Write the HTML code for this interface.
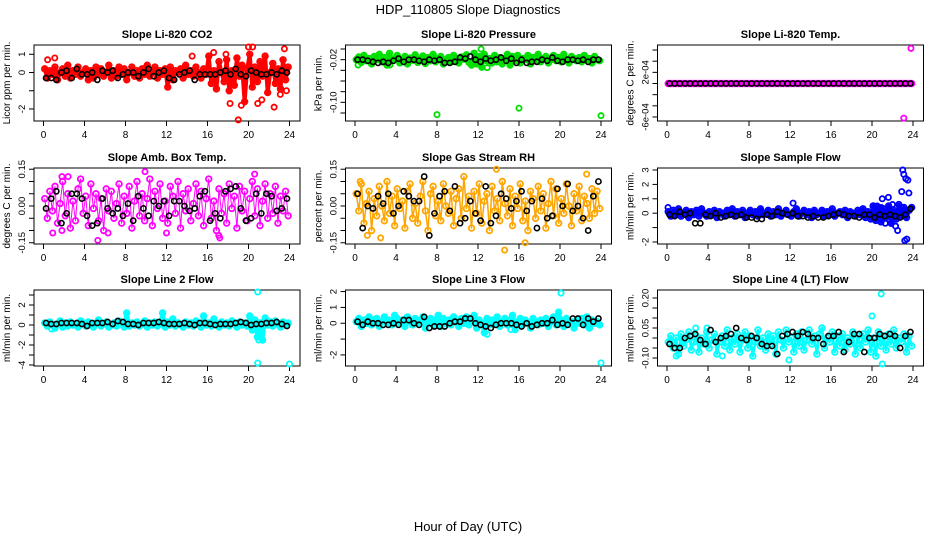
<!DOCTYPE html>
<html><head><meta charset="utf-8"><style>
html,body{margin:0;padding:0;background:#fff}
svg{display:block}
text{font-family:"Liberation Sans",sans-serif;fill:#000}
</style></head><body>
<svg id="chart" width="936" height="540" viewBox="0 0 936 540" xmlns="http://www.w3.org/2000/svg">
<text x="468" y="14" text-anchor="middle" font-size="13">HDP_110805  Slope Diagnostics</text>
<text x="468" y="531" text-anchor="middle" font-size="13">Hour of Day (UTC)</text>
</svg>
<script>
// ---- data (hours on x; slopes on y) ----
const xTicks=[0,4,8,12,16,20,24];
const co2Color=[0.2,-0.3,0.1,-0.1,0.3,-0.4,0.0,0.2,-0.2,0.4,-0.3,0.1,-0.1,0.3,-0.2,0.0,0.2,-0.4,0.1,-0.3,0.3,-0.1,0.2,-0.2,0.0,0.4,-0.3,0.1,-0.2,0.3,-0.1,0.2,-0.4,0.0,0.3,-0.2,0.1,-0.3,0.2,-0.1,0.4,-0.2,0.0,0.3,-0.3,0.1,-0.1,0.2,-0.8,0.3,-0.4,0.1,0.0,0.2,-0.3,0.4,-0.1,0.1,-0.2,0.3,0.0,-0.3,0.2,-0.1,0.9,-0.6,0.1,-0.9,0.6,0.0,-0.5,0.7,-1.0,0.1,-0.7,0.8,-0.2,0.4,-1.6,0.2,1.0,-0.8,0.3,-0.5,0.6,-0.2,0.9,-1.1,0.0,0.5,-0.6,0.2,-0.9,0.7,-0.4,0.3];
const co2Black=[-0.3,-0.3,-0.4,0.0,0.1,-0.3,0.2,-0.1,-0.1,0.0,-0.4,0.1,0.0,0.1,-0.3,-0.1,0.0,0.0,-0.2,0.0,0.2,-0.2,0.0,0.1,-0.3,-0.4,-0.1,0.0,0.1,-0.4,-0.1,-0.1,-0.1,-0.1,0.0,0.1,-0.1,0.2,-0.1,-0.2,0.1,0.0,-0.1,-0.1,0.0,-0.1,0.1,0.0];
const co2OutX=[0.4,1.1,14.5,16.6,17.8,18.2,19.0,19.3,20.0,20.4,20.9,21.3,22.5,23.1,23.5,23.7];
const co2OutY=[0.7,0.8,0.9,1.1,1.0,-1.7,-2.6,-1.8,1.4,1.4,-1.7,-1.5,-1.9,-1.2,1.3,-1.0];
const presColor=[-0.020,-0.015,-0.025,-0.012,-0.022,-0.018,-0.028,-0.014,-0.020,-0.010,-0.024,-0.016,-0.030,-0.008,-0.022,-0.018,-0.012,-0.026,-0.020,-0.014,-0.028,-0.017,-0.021,-0.011,-0.025,-0.019,-0.013,-0.027,-0.016,-0.022,-0.010,-0.024,-0.018,-0.014,-0.028,-0.020,-0.016,-0.024,-0.012,-0.022,-0.026,-0.015,-0.019,-0.011,-0.025,-0.030,-0.008,-0.028,-0.014,-0.034,-0.010,-0.022,-0.018,-0.026,-0.012,-0.024,-0.016,-0.028,-0.020,-0.010,-0.030,-0.014,-0.022,-0.012,-0.026,-0.018,-0.020,-0.012,-0.028,-0.016,-0.022,-0.010,-0.024,-0.018,-0.014,-0.026,-0.020,-0.012,-0.022,-0.016,-0.024,-0.010,-0.020,-0.026,-0.014,-0.018,-0.022,-0.016,-0.024,-0.012,-0.020,-0.018,-0.026,-0.014,-0.020,-0.022];
const presBlack=[-0.020,-0.020,-0.022,-0.024,-0.026,-0.024,-0.026,-0.022,-0.018,-0.024,-0.020,-0.020,-0.022,-0.024,-0.020,-0.022,-0.020,-0.026,-0.026,-0.024,-0.016,-0.018,-0.014,-0.020,-0.024,-0.018,-0.022,-0.020,-0.016,-0.022,-0.018,-0.026,-0.020,-0.026,-0.024,-0.024,-0.020,-0.022,-0.016,-0.022,-0.024,-0.020,-0.020,-0.022,-0.020,-0.024,-0.020,-0.020];
const presOutX=[0.3,8.0,12.9,16.0,24.0,12.3,3.4];
const presOutY=[-0.030,-0.123,-0.035,-0.111,-0.125,0.000,-0.030];
const tempColor=[0,0,0,0,0,0,0,0,0,0,0,0,0,0,0,0,0,0,0,0,0,0,0,0,0,0,0,0,0,0,0,0,0,0,0,0,0,0,0,0,0,0,0,0,0,0,0,0,0,0,0,0,0,0,0,0,0,0,0,0,0,0,0,0,0,0,0,0,0,0,0,0,0,0,0,0,0,0,0,0,0,0,0,0,0,0,0,0,0,0,0,0,0,0,0,0];
const tempBlack=[0,0,0,0,0,0,0,0,0,0,0,0,0,0,0,0,0,0,0,0,0,0,0,0,0,0,0,0,0,0,0,0,0,0,0,0,0,0,0,0,0,0,0,0,0,0,0,0];
const tempOutX=[23.1,23.8];
const tempOutY=[-0.00062,0.00063];
const boxColor=[0.03,-0.05,0.06,-0.02,0.08,-0.07,0.01,0.10,-0.04,0.05,-0.09,0.02,-0.06,0.07,0.11,-0.03,0.04,-0.08,0.09,-0.01,0.05,-0.06,0.03,-0.10,0.07,-0.02,0.06,-0.05,0.01,0.09,-0.07,0.04,-0.03,0.08,-0.09,0.02,0.10,-0.04,0.05,-0.06,0.03,0.11,-0.08,0.06,-0.01,0.09,-0.05,0.02,-0.07,0.08,0.04,-0.03,0.10,-0.09,0.05,-0.02,0.07,-0.06,0.01,0.09,-0.04,0.06,-0.08,0.03,0.11,-0.05,0.02,-0.10,0.07,-0.03,0.05,-0.07,0.09,-0.01,0.04,-0.09,0.08,-0.02,0.06,-0.06,0.03,0.10,-0.04,0.07,-0.08,0.02,0.09,-0.05,0.05,-0.03,0.08,-0.07,0.04,-0.02,0.06,-0.04];
const boxBlack=[-0.01,0.03,0.06,-0.07,-0.03,0.05,0.05,0.03,-0.04,-0.08,-0.07,0.03,-0.01,-0.03,-0.01,-0.04,0.01,-0.06,0.04,-0.01,-0.04,0.02,0.00,0.02,-0.04,0.02,0.02,0.00,-0.02,-0.01,0.04,0.06,-0.06,-0.03,-0.05,0.06,0.07,0.08,-0.01,-0.06,-0.05,0.05,-0.03,0.05,0.04,-0.02,-0.01,0.03];
const boxOutX=[0.9,1.8,2.4,5.3,6.3,9.9,12.0,17.1,20.6,1.8,17.2];
const boxOutY=[-0.11,0.12,0.12,-0.14,-0.11,0.14,-0.11,-0.12,0.13,-0.10,-0.13];
const rhColor=[0.05,-0.02,0.09,-0.07,0.01,0.06,-0.10,0.03,-0.04,0.08,0.00,-0.06,0.10,-0.03,0.04,-0.08,0.07,-0.01,0.02,-0.09,0.06,0.09,-0.05,0.01,-0.07,0.04,0.10,-0.02,-0.10,0.05,0.08,-0.04,0.02,-0.06,0.09,0.00,-0.03,0.06,-0.08,0.03,0.07,-0.05,0.12,-0.01,0.04,-0.09,0.06,-0.03,0.09,-0.07,0.02,0.05,-0.10,0.08,-0.02,0.03,-0.06,0.10,0.01,-0.04,0.07,-0.08,0.04,-0.01,0.09,-0.06,0.02,-0.10,0.06,0.03,-0.05,0.08,-0.02,0.05,-0.09,0.01,0.10,-0.04,0.07,-0.07,0.03,-0.03,0.09,0.00,-0.08,0.05,-0.02,0.08,-0.06,0.04,0.01,-0.05,0.07,-0.03,0.06,-0.01];
const rhBlack=[0.05,-0.09,0.00,-0.01,0.04,0.01,0.05,-0.03,0.00,0.06,0.04,0.02,0.02,0.12,-0.12,-0.03,0.04,0.06,-0.02,0.08,-0.07,-0.05,0.02,-0.03,-0.06,0.08,-0.07,-0.04,0.05,0.03,-0.01,0.02,0.06,-0.02,0.02,-0.09,0.03,-0.05,-0.04,0.07,0.00,0.09,-0.02,0.00,-0.05,-0.10,0.04,0.10];
const rhOutX=[1.2,2.5,14.6,16.6,22.6,13.8,0.5];
const rhOutY=[-0.12,-0.13,-0.18,-0.15,0.13,0.15,0.10];
const sfColor=[0.1,-0.2,0.2,-0.1,0.3,-0.2,0.0,0.2,-0.3,0.1,-0.1,0.2,-0.2,0.3,0.0,-0.2,0.1,-0.1,0.2,-0.3,0.1,0.0,-0.2,0.2,-0.1,0.3,-0.2,0.1,-0.1,0.2,-0.3,0.0,0.2,-0.1,0.1,-0.2,0.3,-0.1,0.0,0.2,-0.2,0.1,-0.1,0.3,-0.2,0.0,0.2,-0.1,-0.2,0.1,0.3,-0.2,0.0,0.2,-0.1,0.1,-0.3,0.2,-0.1,0.0,0.2,-0.2,0.1,-0.1,0.3,-0.2,0.0,0.1,-0.1,0.2,-0.3,0.1,0.0,-0.2,0.2,-0.1,0.3,-0.3,0.1,-0.4,0.5,-0.5,0.4,-0.6,0.3,-0.3,0.5,-0.7,0.2,-0.4,0.6,-0.2,0.4,-0.3,0.2,0.4];
const sfBlack=[-0.1,-0.2,0.1,-0.1,0.0,-0.7,-0.7,-0.1,-0.2,0.0,-0.3,-0.2,-0.1,-0.2,-0.1,-0.3,-0.3,-0.4,-0.4,-0.1,-0.2,0.1,0.0,-0.1,0.0,-0.2,-0.2,-0.3,-0.2,-0.3,-0.3,-0.2,-0.1,0.0,-0.1,-0.2,-0.2,-0.3,-0.1,-0.1,-0.3,-0.1,-0.2,-0.1,-0.2,-0.3,-0.1,0.3];
const sfOutX=[0.1,12.3,20.1,20.5,21.0,21.3,21.6,22.0,22.3,22.5,22.9,23.0,23.1,23.3,23.5,23.6,23.2,23.4,20.9];
const sfOutY=[0.4,0.7,0.5,0.5,1.0,-0.7,1.1,0.6,-0.9,-1.2,1.5,3.0,2.7,2.4,2.3,1.4,-1.9,-1.8,0.4];
const l2Color=[0.2,-0.1,0.3,0.0,-0.3,0.1,0.4,-0.2,0.2,-0.1,0.3,0.0,0.1,-0.2,0.4,0.2,-0.1,0.3,0.0,-0.2,0.2,0.5,-0.1,0.1,0.3,-0.2,0.0,0.2,-0.1,0.4,0.1,-0.2,1.2,-0.1,0.2,0.0,0.3,-0.1,0.1,0.4,-0.2,0.2,0.0,0.3,-0.1,0.1,1.2,-0.2,0.3,0.0,0.6,-0.1,0.2,0.1,-0.2,0.3,0.0,0.2,-0.1,0.4,0.1,-0.2,0.9,0.0,0.2,-0.1,0.6,0.1,-0.2,0.3,0.0,0.2,-0.1,0.4,0.1,-0.2,0.3,0.0,0.2,-0.1,0.9,-0.5,0.5,-1.2,0.2,-1.5,0.7,0.0,0.3,-0.1,0.4,0.1,-0.2,0.3,0.0,0.2];
const l2Black=[0.2,0.1,0.1,0.2,0.2,0.2,0.2,0.1,-0.1,0.2,0.2,0.2,0.3,0.1,0.4,0.3,0.1,0.1,0.0,0.2,0.2,0.2,0.3,0.2,0.1,0.1,0.1,0.2,0.1,0.0,0.2,0.2,0.1,0.0,0.1,0.1,0.1,0.2,0.3,0.2,0.0,0.1,0.1,0.2,0.2,0.3,0.1,-0.1];
const l2OutX=[20.9,20.9,21.0,24.0,0.8];
const l2OutY=[3.3,-3.8,-1.5,-3.9,-0.4];
const l3Color=[0.1,0.3,-0.2,0.2,0.0,0.4,-0.1,0.2,0.3,-0.2,0.1,0.4,0.0,0.2,-0.1,0.5,0.3,0.0,0.2,-0.2,0.4,0.1,-0.1,0.3,0.0,0.2,0.4,-0.3,0.1,0.3,-0.1,0.2,0.5,-0.2,0.3,0.0,0.2,-0.1,0.4,0.1,-0.2,0.3,0.0,0.4,-0.1,0.2,0.5,-0.3,0.2,0.0,-0.6,0.3,-0.1,0.2,0.0,0.4,-0.2,0.1,0.3,-0.1,0.2,0.5,-0.4,0.1,0.3,-0.1,0.2,0.0,-0.3,0.3,0.1,-0.1,0.2,0.0,0.3,-0.2,0.1,0.4,-0.1,0.7,0.2,-0.2,0.3,0.0,0.1,-0.3,0.2,0.0,0.3,-0.1,0.4,-0.3,0.2,0.0,0.1,-0.1];
const l3Black=[0.1,-0.1,0.1,0.0,0.0,-0.1,-0.1,0.0,-0.1,0.2,0.2,0.0,-0.1,0.4,-0.3,-0.2,-0.2,-0.2,0.0,0.1,0.1,0.3,0.3,0.0,-0.1,-0.2,-0.3,-0.1,0.0,0.0,0.0,-0.1,-0.2,0.0,-0.2,-0.1,0.0,0.0,0.2,-0.1,0.0,-0.1,0.3,0.3,-0.1,0.3,0.1,0.3];
const l3OutX=[20.1,24.0,12.9,15.2];
const l3OutY=[1.9,-2.5,-0.7,-0.4];
const l4Color=[-0.02,0.01,-0.05,0.00,-0.08,0.02,-0.04,-0.01,0.03,-0.06,-0.02,0.01,-0.07,0.00,-0.03,0.03,-0.05,-0.01,0.02,-0.08,-0.02,0.01,-0.04,0.04,-0.06,0.00,-0.03,0.02,-0.07,-0.01,0.03,-0.05,0.01,-0.09,-0.02,0.04,-0.04,0.00,-0.06,0.02,-0.03,0.01,-0.08,0.03,-0.01,-0.05,0.04,-0.02,0.00,-0.07,0.02,-0.04,0.03,-0.06,-0.01,0.04,-0.03,0.01,-0.08,0.02,0.05,-0.05,0.00,-0.02,0.03,-0.07,0.01,-0.04,0.02,-0.06,0.00,-0.03,0.03,-0.08,0.01,-0.05,0.02,-0.02,0.04,-0.07,0.00,-0.09,0.03,-0.04,0.01,-0.06,0.02,-0.03,0.04,-0.05,0.00,-0.02,0.02,-0.07,0.01,-0.04];
const l4Black=[-0.03,-0.05,-0.05,0.00,0.01,0.02,-0.01,-0.03,0.04,-0.02,0.00,0.01,0.02,0.05,0.00,-0.01,0.01,0.00,-0.03,-0.04,-0.04,-0.08,0.01,0.02,0.03,0.01,0.03,0.02,0.00,0.00,-0.03,0.01,0.01,0.03,-0.07,-0.02,0.02,0.02,-0.07,0.00,0.00,0.02,0.01,0.02,0.01,-0.05,0.01,0.03];
const l4OutX=[2.8,3.9,15.1,20.0,20.9,11.9,21.0,0.9,5.4];
const l4OutY=[0.05,0.05,0.05,0.11,0.22,-0.11,-0.13,-0.09,-0.09];
const p1Ticks=[1,0,-1,-2], p1Labels=["1","0","","-2"];
const p2Ticks=[0,-0.02,-0.04,-0.06,-0.08,-0.10,-0.12], p2Labels=["","-0.02","","","","-0.10",""];
const p3Ticks=[0.0006,0.0004,0.0002,0,-0.0002,-0.0004,-0.0006], p3Labels=["","","2e-04","","","","-6e-04"];
const p4Ticks=[0.15,0.10,0.05,0,-0.05,-0.10,-0.15], p4Labels=["0.15","","","0.00","","","-0.15"];
const p6Ticks=[3,2,1,0,-1,-2], p6Labels=["3","2","1","0","","-2"];
const p7Ticks=[3,2,1,0,-1,-2,-3,-4], p7Labels=["","2","","0","","-2","","-4"];
const p8Ticks=[2,1,0,-1,-2], p8Labels=["2","1","0","","-2"];
const p9Ticks=[0.20,0.15,0.10,0.05,0,-0.05,-0.10], p9Labels=["0.20","","","0.05","","","-0.10"];

const panels=[
 {name:"co2",title:"Slope Li-820 CO2",ylab:"Licor ppm per min.",col:0,row:0,ymax:1.51,ymin:-2.66,color:"#ff0000",tw:4,c:co2Color,b:co2Black,ox:co2OutX,oy:co2OutY,ticks:p1Ticks,labels:p1Labels},
 {name:"pressure",title:"Slope Li-820 Pressure",ylab:"kPa per min.",col:1,row:0,ymax:0.0075,ymin:-0.135,color:"#00e000",tw:4,c:presColor,b:presBlack,ox:presOutX,oy:presOutY,ticks:p2Ticks,labels:p2Labels},
 {name:"li820-temp",title:"Slope Li-820 Temp.",ylab:"degrees C per min.",col:2,row:0,ymax:0.00069,ymin:-0.000672,color:"#ff00ff",tw:3,c:tempColor,b:tempBlack,ox:tempOutX,oy:tempOutY,ticks:p3Ticks,labels:p3Labels},
 {name:"amb-box-temp",title:"Slope Amb. Box Temp.",ylab:"degrees C per min.",col:0,row:1,ymax:0.155,ymin:-0.155,color:"#ff00ff",tw:1,c:boxColor,b:boxBlack,ox:boxOutX,oy:boxOutY,ticks:p4Ticks,labels:p4Labels},
 {name:"gas-stream-rh",title:"Slope Gas Stream RH",ylab:"percent per min.",col:1,row:1,ymax:0.155,ymin:-0.155,color:"#ffa500",tw:1.5,c:rhColor,b:rhBlack,ox:rhOutX,oy:rhOutY,ticks:p4Ticks,labels:p4Labels},
 {name:"sample-flow",title:"Slope Sample Flow",ylab:"ml/min per min.",col:2,row:1,ymax:3.14,ymin:-2.14,color:"#0000ff",tw:4,c:sfColor,b:sfBlack,ox:sfOutX,oy:sfOutY,ticks:p6Ticks,labels:p6Labels},
 {name:"line2-flow",title:"Slope Line 2 Flow",ylab:"ml/min per min.",col:0,row:2,ymax:3.5,ymin:-4.1,color:"#00ffff",tw:4,c:l2Color,b:l2Black,ox:l2OutX,oy:l2OutY,ticks:p7Ticks,labels:p7Labels},
 {name:"line3-flow",title:"Slope Line 3 Flow",ylab:"ml/min per min.",col:1,row:2,ymax:2.1,ymin:-2.7,color:"#00ffff",tw:4,c:l3Color,b:l3Black,ox:l3OutX,oy:l3OutY,ticks:p8Ticks,labels:p8Labels},
 {name:"line4-flow",title:"Slope Line 4 (LT) Flow",ylab:"ml/min per min.",col:2,row:2,ymax:0.24,ymin:-0.14,color:"#00ffff",tw:2.5,c:l4Color,b:l4Black,ox:l4OutX,oy:l4OutY,ticks:p9Ticks,labels:p9Labels}
];
const colLeft=[34,345.5,657.5], rowTop=[45,168,290], W=266, H=76;
const svg=document.getElementById('chart');
const NS="http://www.w3.org/2000/svg";
function mk(tag,attrs,parent){const e=document.createElementNS(NS,tag);for(const k in attrs)e.setAttribute(k,attrs[k]);parent.appendChild(e);return e;}
panels.forEach(p=>{
  const L=colLeft[p.col],T=rowTop[p.row];
  const g=mk('g',{},svg);
  
  
  const xs=v=>L+9.5+v*(246/24);
  const ys=v=>T+(p.ymax-v)/(p.ymax-p.ymin)*H;
  const title=mk('text',{x:L+W/2,y:T-7,'text-anchor':'middle','font-size':'11','font-weight':'bold'},g);
  title.textContent=p.title;
  
  
  const xa=mk('g',{},g);
  
  
  mk('line',{x1:xs(0),x2:xs(24),y1:T+H,y2:T+H,stroke:'#000'},xa);
  xTicks.forEach(t=>{
    mk('line',{x1:xs(t),x2:xs(t),y1:T+H,y2:T+H+5,stroke:'#000'},xa);
    const tl=mk('text',{x:xs(t),y:T+H+17,'text-anchor':'middle','font-size':'10'},xa);
    tl.textContent=t;
  });
  const ya=mk('g',{},g);
  
  
  mk('line',{x1:L,x2:L,y1:ys(p.ticks[0]),y2:ys(p.ticks[p.ticks.length-1]),stroke:'#000'},ya);
  p.ticks.forEach((t,i)=>{
    const y=ys(t);
    mk('line',{x1:L-5,x2:L,y1:y,y2:y,stroke:'#000'},ya);
    if(p.labels[i]){const tl=mk('text',{x:0,y:0,'text-anchor':'middle','font-size':'9.5',transform:`translate(${L-9},${y}) rotate(-90)`},ya);tl.textContent=p.labels[i];}
  });
  const yl=mk('text',{x:0,y:0,'text-anchor':'middle','font-size':'10',transform:`translate(${L-24},${T+H/2}) rotate(-90)`},g);
  yl.textContent=p.ylab;
  
  
  const bx=mk('rect',{x:L,y:T,width:W,height:H,fill:'none',stroke:'#000'},g);
  
  
  const cs=mk('g',{fill:'none',stroke:p.color,'stroke-width':'1.8'},g);
  
  
  const pts=p.c.map((v,i)=>xs(i*24/p.c.length+0.12).toFixed(1)+','+ys(v).toFixed(1)).join(' ');
  mk('polyline',{points:pts,'stroke-width':p.tw,'stroke-linejoin':'round','stroke-linecap':'round'},cs);
  p.c.forEach((v,i)=>{mk('circle',{cx:xs(i*24/p.c.length+0.12),cy:ys(v),r:2.8},cs);});
  p.ox.forEach((x,i)=>{mk('circle',{cx:xs(x),cy:ys(p.oy[i]),r:2.6},cs);});
  const bs=mk('g',{fill:'none',stroke:'#000','stroke-width':'1.6'},g);
  
  
  p.b.forEach((v,i)=>{mk('circle',{cx:xs(i*24/p.b.length+0.25),cy:ys(v),r:2.6},bs);});
});
</script>
</body></html>
